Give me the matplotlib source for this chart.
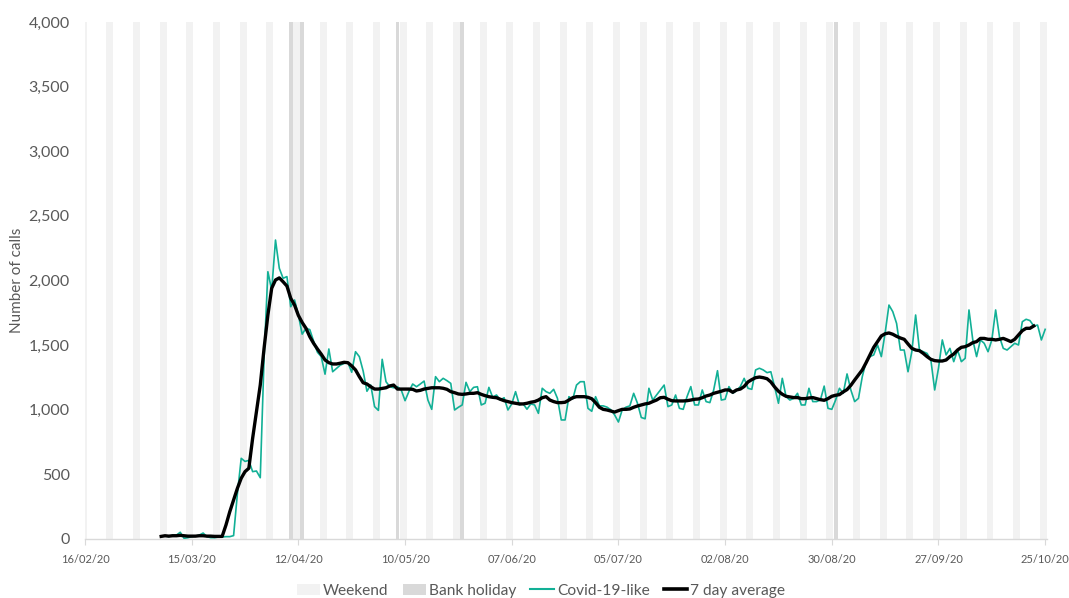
import matplotlib
matplotlib.use("Agg")
import matplotlib.pyplot as plt
import matplotlib.dates as mdates
import matplotlib.ticker as mticker
from matplotlib.patches import Patch
from matplotlib.lines import Line2D
import pandas as pd

plt.rcParams['font.family'] = ['Lato', 'DejaVu Sans']

# axis range and special days
axis_start = '2020-02-16'
axis_end = '2020-10-25'
series_start = '2020-03-07'
bank_holidays = ['2020-04-10', '2020-04-13', '2020-05-08', '2020-05-25', '2020-08-31']

# daily calls, 07/03/20 -> 25/10/20
covid_like = [
    18, 26, 18, 30, 30, 52, 5, 10, 18, 22,
    30, 46, 18, 10, 10, 15, 15, 18, 18, 26,
    350, 624, 600, 608, 521, 526, 474, 1400, 2068, 1926,
    2313, 2094, 2017, 2030, 1797, 1849, 1733, 1585, 1630, 1620,
    1530, 1445, 1411, 1275, 1470, 1294, 1320, 1345, 1358, 1365,
    1290, 1449, 1411, 1300, 1143, 1191, 1024, 995, 1390, 1217,
    1178, 1170, 1178, 1153, 1070, 1140, 1199, 1178, 1199, 1222,
    1075, 1003, 1256, 1217, 1243, 1225, 1204, 998, 1019, 1037,
    1212, 1140, 1173, 1178, 1037, 1050, 1173, 1096, 1114, 1075,
    1093, 998, 1045, 1140, 1037, 1045, 1004, 1045, 1037, 972,
    1166, 1140, 1127, 1158, 1088, 921, 921, 1101, 1081, 1191,
    1217, 1217, 1011, 988, 1101, 1030, 1030, 1020, 1000, 960,
    905, 1000, 1020, 1030, 1127, 1050, 940, 930, 1166, 1075,
    1114, 1153, 1191, 1024, 1037, 1114, 1011, 1003, 1101, 1179,
    1037, 1037, 1153, 1063, 1055, 1153, 1302, 1075, 1081, 1179,
    1127, 1148, 1180, 1243, 1166, 1158, 1308, 1321, 1308, 1287,
    1294, 1176, 1050, 1243, 1101, 1075, 1088, 1127, 1037, 1037,
    1166, 1063, 1063, 1075, 1183, 1011, 1003, 1075, 1166, 1127,
    1277, 1153, 1063, 1088, 1256, 1372, 1411, 1424, 1501, 1411,
    1595, 1810, 1759, 1668, 1462, 1462, 1294, 1449, 1733, 1462,
    1449, 1436, 1385, 1153, 1321, 1540, 1424, 1475, 1372, 1462,
    1372, 1398, 1772, 1540, 1411, 1540, 1514, 1449, 1540, 1772,
    1565, 1475, 1462, 1488, 1514, 1501, 1681, 1700, 1690, 1648,
    1655, 1540, 1622,
]

# 7 day average, 07/03/20 -> 22/10/20
seven_day_avg = [
    20, 25, 22, 25, 25, 28, 25, 22, 22, 22,
    25, 25, 22, 22, 20, 20, 20, 108, 211, 302,
    392, 470, 521, 547, 779, 985, 1191, 1475, 1733, 1940,
    2004, 2020, 1990, 1957, 1862, 1810, 1730, 1675, 1630, 1565,
    1514, 1470, 1430, 1385, 1364, 1354, 1354, 1360, 1367, 1364,
    1339, 1308, 1256, 1209, 1199, 1178, 1160, 1160, 1165, 1170,
    1184, 1191, 1160, 1160, 1160, 1160, 1158, 1145, 1150, 1160,
    1165, 1170, 1170, 1170, 1166, 1158, 1140, 1132, 1122, 1119,
    1122, 1127, 1127, 1132, 1119, 1109, 1101, 1096, 1093, 1081,
    1070, 1063, 1055, 1050, 1045, 1045, 1050, 1058, 1063, 1075,
    1093, 1101, 1075, 1063, 1055, 1055, 1058, 1075, 1093, 1101,
    1101, 1101, 1096, 1085, 1055, 1019, 1003, 998, 990, 982,
    993, 1003, 1003, 1006, 1019, 1029, 1037, 1045, 1050, 1063,
    1075, 1093, 1096, 1081, 1070, 1068, 1068, 1068, 1070, 1075,
    1081, 1083, 1093, 1106, 1114, 1127, 1135, 1143, 1153, 1153,
    1135, 1153, 1160, 1180, 1215, 1233, 1248, 1253, 1248, 1240,
    1215, 1176, 1143, 1120, 1104, 1099, 1094, 1094, 1086, 1086,
    1091, 1094, 1086, 1078, 1073, 1086, 1104, 1112, 1117, 1138,
    1156, 1189, 1230, 1269, 1308, 1364, 1424, 1483, 1527, 1571,
    1588, 1594, 1584, 1568, 1555, 1545, 1509, 1475, 1462, 1457,
    1436, 1411, 1390, 1380, 1377, 1377, 1385, 1411, 1431, 1462,
    1483, 1488, 1501, 1519, 1527, 1552, 1552, 1545, 1545, 1540,
    1545, 1552, 1540, 1527, 1545, 1578, 1612, 1630, 1630, 1648,
]

teal = '#12b096'
grey_txt = '#595959'
weekend_col = '#f2f2f2'
bank_col = '#d9d9d9'

covid_dates = pd.date_range(series_start, periods=len(covid_like), freq='D')
avg_dates = pd.date_range(series_start, periods=len(seven_day_avg), freq='D')
all_days = pd.date_range(axis_start, axis_end, freq='D')

fig = plt.figure(figsize=(10.69, 5.98), dpi=100)
ax = fig.add_axes([0.0795, 0.0987, 0.9, 0.8645])

# weekend bands (sat+sun), then bank holidays on top
for d in all_days:
    n = mdates.date2num(d)
    if d.weekday() == 5:
        ax.axvspan(n - 0.4, n + 0.6, color=weekend_col, lw=0, zorder=0)
    elif d.weekday() == 6:
        ax.axvspan(n - 0.5, n + 0.4, color=weekend_col, lw=0, zorder=0)
for b in bank_holidays:
    n = mdates.date2num(pd.Timestamp(b))
    ax.axvspan(n - 0.5, n + 0.5, color=bank_col, lw=0, zorder=1)

ax.plot(covid_dates, covid_like, color=teal, lw=1.2, zorder=3)
ax.plot(avg_dates, seven_day_avg, color='black', lw=2.4, zorder=4,
        solid_joinstyle='round')

x0 = mdates.date2num(pd.Timestamp(axis_start))
ax.set_xlim(x0, x0 + 252.5)
ax.set_ylim(0, 4000)

ax.set_xticks(pd.date_range(axis_start, axis_end, freq='28D'))
ax.xaxis.set_major_formatter(mdates.DateFormatter('%d/%m/%y'))
ax.set_yticks(range(0, 4001, 500))
ax.yaxis.set_major_formatter(mticker.StrMethodFormatter('{x:,.0f}'))

for s in ['top', 'right', 'left']:
    ax.spines[s].set_visible(False)
ax.spines['bottom'].set_color(bank_col)
ax.spines['bottom'].set_linewidth(1.0)
ax.tick_params(axis='x', colors=bank_col, length=4, labelsize=8,
               labelcolor=grey_txt, pad=7)
ax.tick_params(axis='y', length=0, labelsize=11.5, labelcolor=grey_txt, pad=11)

ax.set_ylabel('Number of calls', fontsize=11, color=grey_txt)
ax.yaxis.set_label_coords(-0.063, 0.5)

handles = [
    Patch(facecolor=weekend_col, edgecolor='none', label='Weekend'),
    Patch(facecolor=bank_col, edgecolor='none', label='Bank holiday'),
    Line2D([], [], color=teal, lw=1.5, label='Covid-19-like'),
    Line2D([], [], color='black', lw=2.6, label='7 day average'),
]
leg = fig.legend(handles=handles, loc='center', bbox_to_anchor=(0.506, 0.012),
                 ncol=4, frameon=False, fontsize=11.2, handlelength=1.5,
                 handletextpad=0.2, columnspacing=0.9)
for t in leg.get_texts():
    t.set_color(grey_txt)

fig.savefig('out.png', dpi=100)
